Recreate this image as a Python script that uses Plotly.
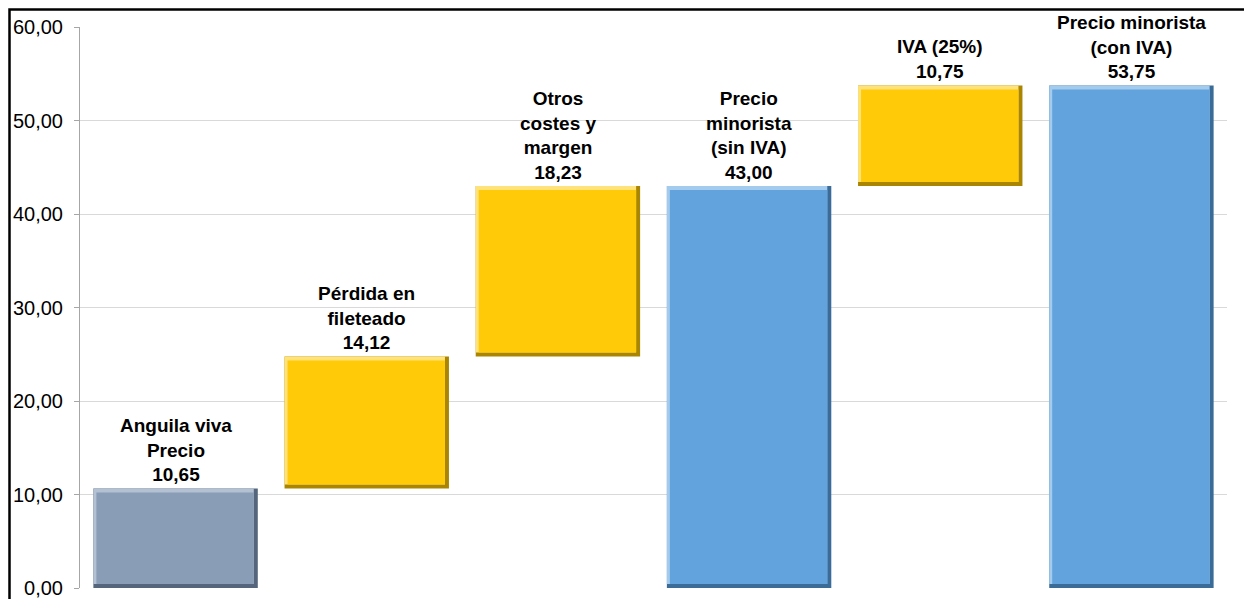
import plotly.graph_objects as go

# ---- data ----
labels = [
    "Anguila viva<br>Precio",
    "Pérdida en<br>fileteado",
    "Otros<br>costes y<br>margen",
    "Precio<br>minorista<br>(sin IVA)",
    "IVA (25%)",
    "Precio minorista<br>(con IVA)",
]
values = [10.65, 14.12, 18.23, 43.00, 10.75, 53.75]
kinds = ["start", "delta", "delta", "total", "delta", "total"]
tick_vals = [0, 10, 20, 30, 40, 50, 60]
tick_text = ["0,00", "10,00", "20,00", "30,00", "40,00", "50,00", "60,00"]

# ---- styles ----
face_col = {"start": "#8A9DB6", "delta": "#FFCA08", "total": "#62A3DD"}
edge_col = {"start": "#55657B", "delta": "#A98500", "total": "#3B6C98"}
light_col = {"start": "#B3C1D2", "delta": "#FFE27A", "total": "#A3CBEE"}

W, H = 1244, 591
L, R, T, B = 72, 25, 19, 11
pw, ph = W - L - R, H - T - B
YMAX = 60
NCAT = len(values)
BAR_W = 0.86
px_x = NCAT / pw          # category units per pixel
px_y = YMAX / ph          # value units per pixel

# bases from running total
bases = []
running = 0.0
for v, k in zip(values, kinds):
    if k == "delta":
        bases.append(running)
        running += v
    else:
        bases.append(0.0)
        running = v

xs = list(range(NCAT))

def fmt(v):
    return f"{v:.2f}".replace(".", ",")

fig = go.Figure()
# dark edge (full bar)
fig.add_trace(go.Bar(
    x=xs, y=values, base=bases, width=BAR_W, offset=-BAR_W / 2,
    marker=dict(color=[edge_col[k] for k in kinds], line=dict(width=0)),
    hoverinfo="skip",
))
# light top/left bevel
bev_r, bev_b = 4, 4
fig.add_trace(go.Bar(
    x=xs, y=[v - bev_b * px_y for v in values], base=[b + bev_b * px_y for b in bases],
    width=BAR_W - bev_r * px_x, offset=-BAR_W / 2,
    marker=dict(color=[light_col[k] for k in kinds], line=dict(width=0)),
    hoverinfo="skip",
))
# face
bev_l, bev_t = 3, 4
fig.add_trace(go.Bar(
    x=xs, y=[v - (bev_b + bev_t) * px_y for v in values], base=[b + bev_b * px_y for b in bases],
    width=BAR_W - (bev_l + bev_r) * px_x, offset=-BAR_W / 2 + bev_l * px_x,
    marker=dict(color=[face_col[k] for k in kinds], line=dict(width=0)),
    hoverinfo="skip",
))

for x, v, b, lab in zip(xs, values, bases, labels):
    fig.add_annotation(
        x=x, y=v + b, xref="x", yref="y",
        text=f"<b>{lab}<br>{fmt(v)}</b>",
        showarrow=False, yanchor="bottom", yshift=1,
        font=dict(family="Liberation Sans, Arial", size=19, color="#000000"),
    )

# outer chart border (left/top edges visible)
fig.add_shape(type="rect", xref="paper", yref="paper",
              x0=-(L - 1.5) / pw, x1=1 + 40 / pw, y0=-40 / ph, y1=1 + (T - 1.5) / ph,
              line=dict(color="#000000", width=2.5), fillcolor="rgba(0,0,0,0)", layer="above")

fig.update_layout(
    width=W, height=H,
    margin=dict(l=L, r=R, t=T, b=B, autoexpand=False),
    paper_bgcolor="white", plot_bgcolor="white",
    showlegend=False,
    barmode="overlay",
    xaxis=dict(range=[-0.5, NCAT - 0.5], showticklabels=False, showgrid=False,
               zeroline=False, showline=False, ticks="", automargin=False),
    yaxis=dict(range=[0, YMAX], tickvals=tick_vals, ticktext=tick_text,
               showgrid=True, gridcolor="#D9D9D9", gridwidth=1,
               zeroline=False, showline=True, linecolor="#A6A6A6", linewidth=1,
               ticks="outside", ticklen=5, tickcolor="#A6A6A6",
               ticklabelstandoff=7, automargin=False,
               tickfont=dict(family="Liberation Sans, Arial", size=20, color="#000000")),
)

fig.write_html("out.html")
